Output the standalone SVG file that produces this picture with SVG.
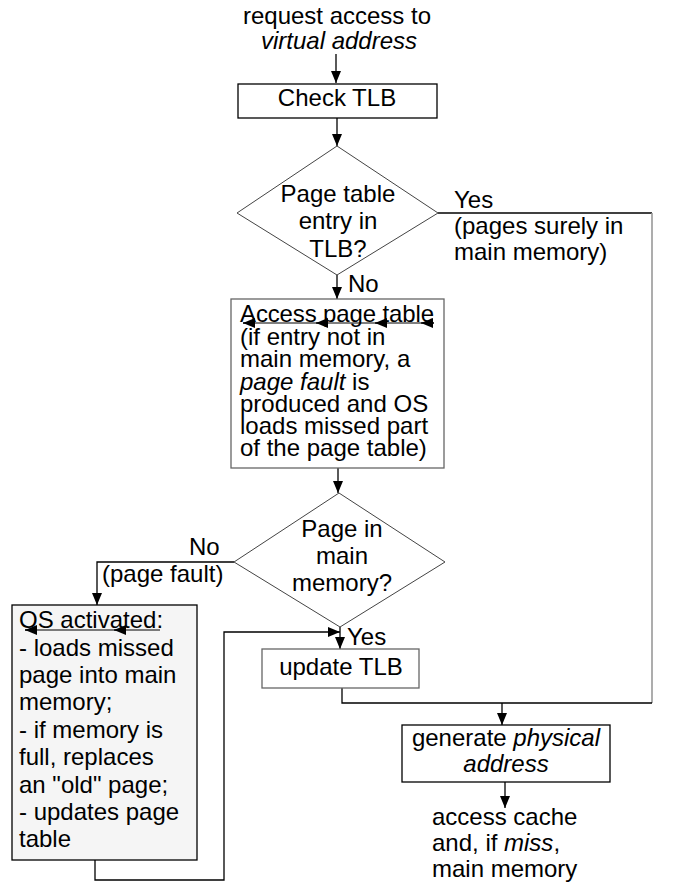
<svg xmlns="http://www.w3.org/2000/svg" width="679" height="884" viewBox="0 0 679 884">
<defs>
<marker id="ah" markerWidth="12" markerHeight="10" refX="12" refY="5" orient="auto" markerUnits="userSpaceOnUse">
<path d="M0,0 L12,5 L0,10 z" fill="#000"/>
</marker>
<marker id="sa" markerWidth="12" markerHeight="10" refX="0" refY="5" orient="auto" markerUnits="userSpaceOnUse">
<path d="M0,5 L12,0 L12,10 z" fill="#000"/>
</marker>
</defs>
<style>
text{font-family:"Liberation Sans",Arial,sans-serif;font-size:24px;fill:#000}
.c{text-anchor:middle}
.i{font-style:italic}
.box{fill:#fff;stroke:#000;stroke-width:1.3}
.gbox{fill:#fff;stroke:#666;stroke-width:1.3}
.dia{fill:#fff;stroke:#444;stroke-width:1}
.ln{fill:none;stroke:#000;stroke-width:1.3}
.ul{fill:none;stroke:#000;stroke-width:1.2}
</style>
<rect width="679" height="884" fill="#fff"/>

<g id="connectors">
<path class="ln" d="M336,54 L336,83" marker-end="url(#ah)"/>
<path class="ln" d="M337,118 L337,146" marker-end="url(#ah)"/>
<path class="ln" d="M337,275 L337,299" marker-end="url(#ah)"/>
<path class="ln" d="M438,213 L652,213"/>
<path d="M652,213 L652,703" fill="none" stroke="#999" stroke-width="1.6"/>
<path class="ln" d="M652,703 L342,703 L342,688"/>
<path class="ln" d="M502,703 L502,725" marker-end="url(#ah)"/>
<path class="ln" d="M338,468 L338,493" marker-end="url(#ah)"/>
<path class="ln" d="M234,562 L97,562 L97,605" marker-end="url(#ah)"/>
<path class="ln" d="M340,627 L340,649" marker-end="url(#ah)"/>
<path class="ln" d="M95,860 L95,880 L224,880 L224,632 L340,632" marker-end="url(#ah)"/>
<path class="ln" d="M505,782 L505,808" marker-end="url(#ah)"/>
</g>

<g id="start">
<text class="c" x="337" y="24">request access to</text>
<text class="c i" x="339" y="49">virtual address</text>
</g>

<g id="check-tlb">
<rect class="box" x="238" y="84" width="199" height="34"/>
<text class="c" x="337" y="106">Check TLB</text>
</g>

<g id="decision-tlb">
<polygon class="dia" points="337,146 438,213 337,275 237,213"/>
<text class="c" x="338" y="202">Page table</text>
<text class="c" x="338" y="229">entry in</text>
<text class="c" x="338" y="257">TLB?</text>
<text x="454" y="208">Yes</text>
<text x="454" y="234">(pages surely in</text>
<text x="454" y="260">main memory)</text>
<text x="348" y="292">No</text>
</g>

<g id="access-page-table">
<rect class="gbox" x="231" y="299" width="213" height="169"/>
<text x="240" y="322" textLength="194">Access page table</text>
<path class="ul" d="M243,323 L434,323"/>
<path class="ul" d="M243,323 L255,323" marker-start="url(#sa)"/>
<path class="ul" d="M316,323 L328,323" marker-start="url(#sa)"/>
<path class="ul" d="M375,323 L385,323" marker-start="url(#sa)"/>
<path class="ul" d="M421,323 L434,323" marker-start="url(#sa)"/>
<text x="240" y="345">(if entry not in</text>
<text x="240" y="367">main memory, a</text>
<text x="240" y="390"><tspan class="i">page fault</tspan> is</text>
<text x="240" y="412">produced and OS</text>
<text x="240" y="434">loads missed part</text>
<text x="240" y="456">of the page table)</text>
</g>

<g id="decision-page">
<polygon class="dia" points="339,493 445,562 340,627 234,562"/>
<text class="c" x="342" y="537">Page in</text>
<text class="c" x="342" y="564">main</text>
<text class="c" x="342" y="591">memory?</text>
<text x="189" y="555">No</text>
<text x="102" y="582">(page fault)</text>
<text x="347" y="645">Yes</text>
</g>

<g id="os-activated">
<rect x="12" y="605" width="185" height="255" fill="#f5f5f5" stroke="#000" stroke-width="1.3"/>
<text x="19" y="628">OS activated:</text>
<path class="ul" d="M25,630 L160,630"/>
<path class="ul" d="M25,630 L37,630" marker-start="url(#sa)"/>
<path class="ul" d="M114,630 L126,630" marker-start="url(#sa)"/>
<text x="19" y="656">- loads missed</text>
<text x="19" y="683">page into main</text>
<text x="19" y="710">memory;</text>
<text x="19" y="738">- if memory is</text>
<text x="19" y="765">full, replaces</text>
<text x="19" y="793">an "old" page;</text>
<text x="19" y="820">- updates page</text>
<text x="19" y="847">table</text>
</g>

<g id="update-tlb">
<rect class="gbox" x="262" y="649" width="157" height="39"/>
<text class="c" x="341" y="675">update TLB</text>
</g>

<g id="generate-physical">
<rect class="box" x="402" y="725" width="208" height="57"/>
<text class="c" x="506" y="746">generate <tspan class="i">physical</tspan></text>
<text class="c i" x="506" y="772">address</text>
</g>

<g id="end">
<text x="432" y="825">access cache</text>
<text x="432" y="851">and, if <tspan class="i">miss</tspan>,</text>
<text x="432" y="877">main memory</text>
</g>
</svg>
